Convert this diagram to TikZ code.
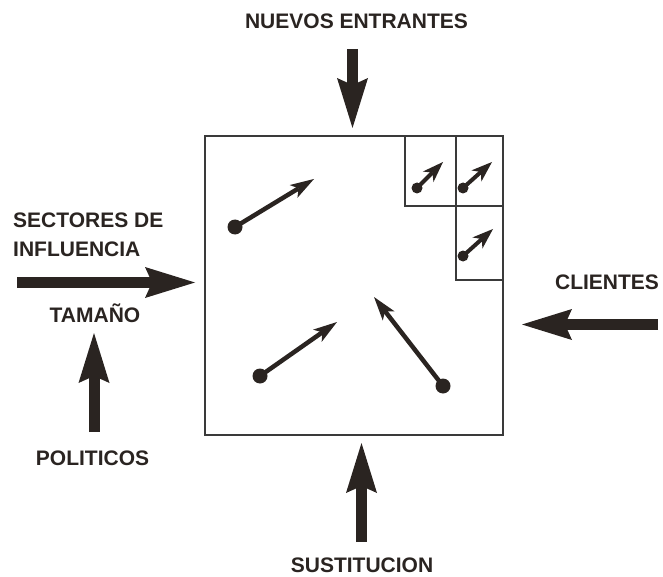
\documentclass[tikz,border=0pt]{standalone}
\usepackage{fontspec}
\setmainfont{Liberation Sans}
\usetikzlibrary{arrows.meta}
\definecolor{ink}{HTML}{2A2421}
\definecolor{frame}{HTML}{3A3A3A}
\tikzset{
  lbl/.style={font=\fontsize{21}{25}\selectfont\bfseries, text=ink, inner sep=0pt},
  bigarrow/.style={draw=ink, line width=11pt,
    -{Stealth[length=50pt,width=31pt,inset=7pt,line width=0pt]}},
  midarrow/.style={draw=ink, line width=4.5pt,
    -{Stealth[length=24pt,width=15pt,inset=6pt,line width=0pt]}},
  smlarrow/.style={draw=ink, line width=4pt,
    -{Stealth[length=21pt,width=15pt,inset=6pt,line width=0pt]}},
  bigdot/.style={circle, fill=ink, inner sep=0pt, minimum size=15pt},
  smldot/.style={circle, fill=ink, inner sep=0pt, minimum size=11pt},
  cell/.style={draw=frame, line width=1.2pt}
}
\begin{document}
\begin{tikzpicture}[x=1pt,y=-1pt]
\useasboundingbox (0,0) rectangle (663,577);
% frames
\draw[cell] (205,136) rectangle (503,435);
\draw[cell] (405,136) rectangle (456,206);
\draw[cell] (456,136) rectangle (503,206);
\draw[cell] (456,206) rectangle (503,280);
% labels
\node[lbl, anchor=base] (nuevos) at (356.5,29) {NUEVOS ENTRANTES};
\node[lbl, anchor=base west] (sect) at (13,228) {SECTORES DE};
\node[lbl, anchor=base west] (infl) at (13,256) {INFLUENCIA};
\node[lbl, anchor=base] (tam) at (95,322) {TAMAÑO};
\node[lbl, anchor=base] (pol) at (92.5,465) {POLITICOS};
\node[lbl, anchor=base] (cli) at (607,289) {CLIENTES};
\node[lbl, anchor=base] (sus) at (362,572) {SUSTITUCION};
% big arrows
\coordinate (topS) at (352.5,49);   \coordinate (topE) at (352.5,128);
\coordinate (lefS) at (17,282.5);   \coordinate (lefE) at (195,282.5);
\coordinate (rigS) at (658,324.5);  \coordinate (rigE) at (522,324.5);
\coordinate (botS) at (361.5,542);  \coordinate (botE) at (361.5,443);
\coordinate (polS) at (94,432);     \coordinate (polE) at (94,333);
\draw[bigarrow] (topS) -- (topE);
\draw[bigarrow] (lefS) -- (lefE);
\draw[bigarrow] (rigS) -- (rigE);
\draw[bigarrow] (botS) -- (botE);
\draw[bigarrow] (polS) -- (polE);
% inner arrows
\node[bigdot] (d1) at (235,227) {};
\node[bigdot] (d2) at (260,376) {};
\node[bigdot] (d3) at (443,386) {};
\coordinate (t1) at (314,179);
\coordinate (t2) at (337,322);
\coordinate (t3) at (374,297);
\draw[midarrow] (d1.center) -- (t1);
\draw[midarrow] (d2.center) -- (t2);
\draw[midarrow] (d3.center) -- (t3);
% arrows in small cells
\node[smldot] (e1) at (417,188) {};
\node[smldot] (e2) at (463,188) {};
\node[smldot] (e3) at (463,256) {};
\coordinate (u1) at (443,162);
\coordinate (u2) at (492,162);
\coordinate (u3) at (493,229);
\draw[smlarrow] (e1.center) -- (u1);
\draw[smlarrow] (e2.center) -- (u2);
\draw[smlarrow] (e3.center) -- (u3);
\end{tikzpicture}
\end{document}
